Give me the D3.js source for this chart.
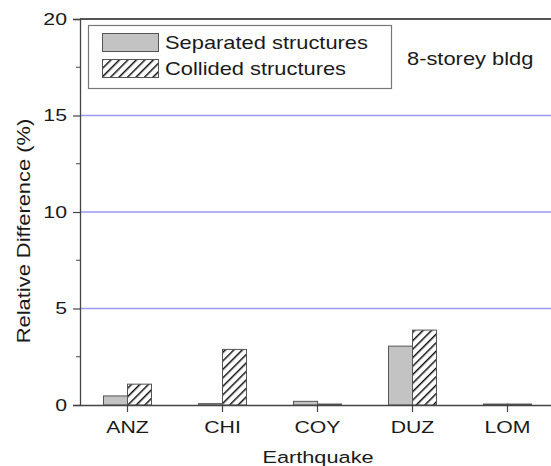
<!DOCTYPE html>
<html>
<head>
<meta charset="utf-8">
<script src="https://cdn.jsdelivr.net/npm/d3@7"></script>
<style>
  body { margin: 0; background: #fff; }
  text { font-family: Arial, "Liberation Sans", sans-serif; fill: #1a1a1a; }
</style>
</head>
<body>
<div id="chart"></div>
<script>
// earthquakes and relative difference (%) for the 8-storey building
var quakes = ["ANZ", "CHI", "COY", "DUZ", "LOM"];
var separated = [0.47, 0.07, 0.19, 3.05, 0.05];
var collided = [1.08, 2.88, 0.05, 3.88, 0.05];
var yTicks = [0, 5, 10, 15, 20];
var yMinor = [2.5, 7.5, 12.5, 17.5];
var seriesNames = ["Separated structures", "Collided structures"];

var W = 551, H = 466;
var margin = {top: 19, right: -4, bottom: 61, left: 80};
var width = W - margin.left - margin.right,
    height = H - margin.top - margin.bottom;
var sx = 1.25; // the original font is wider than Arial

var svg = d3.select("#chart")
    .append("svg")
    .attr("width", W)
    .attr("height", H);

var defs = svg.append("defs");
var pat = defs.append("pattern")
    .attr("id", "hatch")
    .attr("patternUnits", "userSpaceOnUse")
    .attr("width", 6)
    .attr("height", 6)
    .attr("patternTransform", "rotate(45)");
pat.append("rect").attr("width", 6).attr("height", 6).attr("fill", "#fff");
pat.append("line")
    .attr("x1", 0).attr("y1", 0).attr("x2", 0).attr("y2", 6)
    .attr("stroke", "#111").attr("stroke-width", 3);

// wide text helper
function label(parent, x, y, str, size, anchor, rot) {
    var t = parent.append("g")
        .attr("transform", "translate(" + x + "," + y + ")" + (rot ? " rotate(" + rot + ")" : ""))
        .append("text")
        .attr("text-anchor", anchor || "start")
        .attr("transform", "scale(" + sx + ",1)")
        .style("font-size", size + "px")
        .text(str);
    return t;
}

var g = svg.append("g")
    .attr("transform", "translate(" + margin.left + "," + margin.top + ")");

var x = d3.scaleBand()
    .domain(quakes)
    .range([0, width]);

var y = d3.scaleLinear()
    .domain([0, 20])
    .range([height, 0]);

var barW = 24;

// gridlines
g.append("g")
    .selectAll("line")
    .data([5, 10, 15])
    .enter()
    .append("line")
    .attr("x1", 0).attr("x2", width)
    .attr("y1", function (d) { return y(d); })
    .attr("y2", function (d) { return y(d); })
    .attr("stroke", "#9a9af0")
    .attr("stroke-width", 1.3);

// bars
g.append("g")
    .selectAll("rect")
    .data(quakes)
    .enter()
    .append("rect")
    .attr("x", function (d) { return x(d) + x.bandwidth() / 2 - barW; })
    .attr("y", function (d, i) { return y(separated[i]); })
    .attr("width", barW)
    .attr("height", function (d, i) { return y(0) - y(separated[i]); })
    .attr("fill", "#c3c3c3")
    .attr("stroke", "#555")
    .attr("stroke-width", 1);

g.append("g")
    .selectAll("rect")
    .data(quakes)
    .enter()
    .append("rect")
    .attr("x", function (d) { return x(d) + x.bandwidth() / 2; })
    .attr("y", function (d, i) { return y(collided[i]); })
    .attr("width", barW)
    .attr("height", function (d, i) { return y(0) - y(collided[i]); })
    .attr("fill", "url(#hatch)")
    .attr("stroke", "#555")
    .attr("stroke-width", 1);

// frame top
g.append("line")
    .attr("x1", 0).attr("x2", width)
    .attr("y1", 0).attr("y2", 0)
    .attr("stroke", "#555").attr("stroke-width", 1.8);

// y axis
var yAxis = g.append("g")
    .call(d3.axisLeft(y).tickValues(yTicks).tickSize(7));
yAxis.select(".domain").attr("stroke", "#444").attr("stroke-width", 1.3);
yAxis.selectAll(".tick line").attr("stroke", "#444").attr("stroke-width", 1.2);
yAxis.selectAll("text")
    .attr("x", -13 / sx)
    .attr("transform", "scale(" + sx + ",1)")
    .style("font-size", "17px").attr("fill", "#1a1a1a");

// minor ticks
g.append("g")
    .selectAll("line")
    .data(yMinor)
    .enter()
    .append("line")
    .attr("x1", -4).attr("x2", 0)
    .attr("y1", function (d) { return y(d); })
    .attr("y2", function (d) { return y(d); })
    .attr("stroke", "#444");

// x axis
var xAxis = g.append("g")
    .attr("transform", "translate(0," + height + ")")
    .call(d3.axisBottom(x).tickSize(7).tickPadding(9).tickSizeOuter(0));
xAxis.select(".domain").attr("stroke", "#444").attr("stroke-width", 1.3);
xAxis.selectAll(".tick line").attr("stroke", "#444").attr("stroke-width", 1.2);
xAxis.selectAll("text")
    .attr("transform", "scale(" + sx + ",1)")
    .style("font-size", "17px").attr("fill", "#1a1a1a");

// axis titles
label(svg, 318, 463, "Earthquake", 17.4, "middle");
label(svg, 30, 231, "Relative Difference (%)", 17.5, "middle", -90);

// legend
var leg = svg.append("g");
leg.append("rect")
    .attr("x", 88.5).attr("y", 25.5)
    .attr("width", 303).attr("height", 63)
    .attr("fill", "#fff")
    .attr("stroke", "#777")
    .attr("stroke-width", 1.2);

var fills = ["#c3c3c3", "url(#hatch)"];
seriesNames.forEach(function (name, i) {
    leg.append("rect")
        .attr("x", 102.5).attr("y", 33.5 + i * 26)
        .attr("width", 56).attr("height", 18)
        .attr("fill", fills[i])
        .attr("stroke", "#555");
    label(leg, 165, 48.5 + i * 26.5, name, 17.5, "start");
});

label(svg, 407, 65, "8-storey bldg", 17.5, "start");
</script>
</body>
</html>
